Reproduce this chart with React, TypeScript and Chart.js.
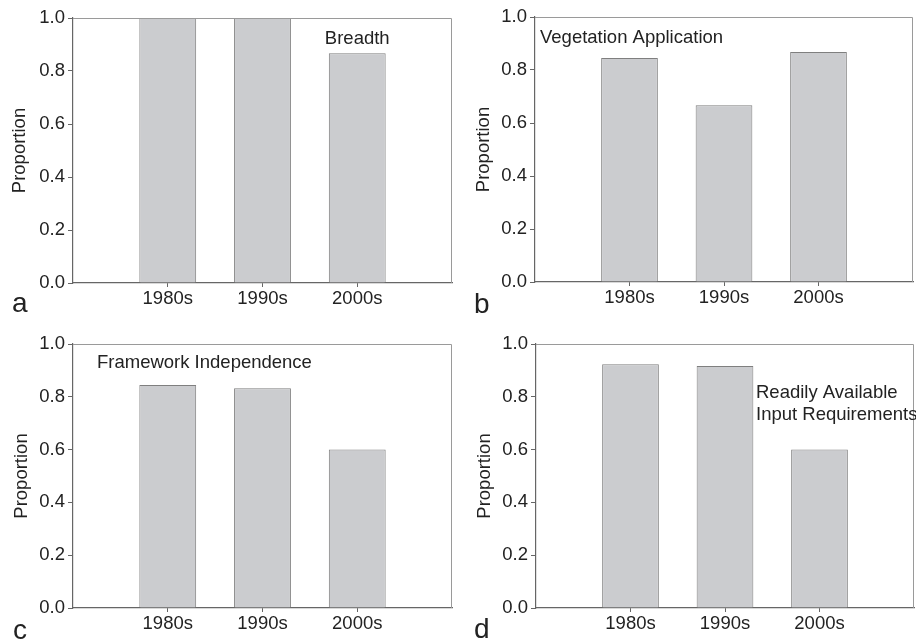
import React, { useEffect, useRef } from "react";
import { Chart, registerables } from "chart.js";

Chart.register(...registerables);

const categories = ["1980s", "1990s", "2000s"];
const breadth = [1.0, 1.0, 0.867];
const vegetation = [0.845, 0.667, 0.868];
const framework = [0.845, 0.832, 0.6];
const inputReq = [0.923, 0.917, 0.6];
const yTicks = [0, 0.2, 0.4, 0.6, 0.8, 1.0];

const FONT = "'Liberation Sans', Arial, Helvetica, sans-serif";
const TEXT = "#222";
const FS = 18.5;

type Note = { text: string[]; x: number; y: number; align: CanvasTextAlign };

type Panel = {
  letter: string;
  values: number[];
  notes: Note[];
  left: number; top: number;
  areaLeft: number; areaRight: number; areaTop: number; areaBottom: number;
  titleX: number;
  letterBaseline: number; letterX: number;
};

const W = 458;
const H = 320;

const panels: Panel[] = [
  {
    letter: "a", values: breadth,
    notes: [{ text: ["Breadth"], x: 3, y: 0.922, align: "center" }],
    left: 0, top: 0, areaLeft: 73, areaRight: 452, areaTop: 18, areaBottom: 283,
    titleX: 20, letterBaseline: 311, letterX: 12,
  },
  {
    letter: "b", values: vegetation,
    notes: [{ text: ["Vegetation Application"], x: 0.053, y: 0.921, align: "left" }],
    left: 458, top: 0, areaLeft: 77, areaRight: 455, areaTop: 17, areaBottom: 282,
    titleX: 26, letterBaseline: 312, letterX: 16,
  },
  {
    letter: "c", values: framework,
    notes: [{ text: ["Framework Independence"], x: 0.253, y: 0.928, align: "left" }],
    left: 0, top: 320, areaLeft: 73, areaRight: 452, areaTop: 24, areaBottom: 288,
    titleX: 22, letterBaseline: 318, letterX: 13,
  },
  {
    letter: "d", values: inputReq,
    notes: [
      { text: ["Readily Available", "Input Requirements"], x: 2.328, y: 0.814, align: "left" },
    ],
    left: 458, top: 320, areaLeft: 78, areaRight: 456, areaTop: 24, areaBottom: 288,
    titleX: 27, letterBaseline: 317, letterX: 16,
  },
];

function makePlugin(p: Panel) {
  return {
    id: "frameNotes" + p.letter,
    afterDraw(chart: any) {
      const { ctx, chartArea } = chart;
      const { left, right, top, bottom } = chartArea;
      ctx.save();
      ctx.strokeStyle = "#9a9a9a";
      ctx.lineWidth = 1;
      ctx.beginPath();
      ctx.moveTo(left, top + 0.5);
      ctx.lineTo(right - 0.5, top + 0.5);
      ctx.lineTo(right - 0.5, bottom);
      ctx.stroke();
      const xs = chart.scales.x;
      const ys = chart.scales.y;
      ctx.fillStyle = TEXT;
      ctx.font = `${FS}px ${FONT}`;
      ctx.textBaseline = "middle";
      p.notes.forEach((n) => {
        ctx.textAlign = n.align;
        const px = xs.getPixelForValue(n.x);
        const py = ys.getPixelForValue(n.y);
        n.text.forEach((line, i) => ctx.fillText(line, px, py + i * 22));
      });
      ctx.restore();
    },
  };
}

function PanelChart({ p }: { p: Panel }) {
  const ref = useRef<HTMLCanvasElement | null>(null);
  useEffect(() => {
    if (!ref.current) return;
    const labels = ["", ...categories, ""];
    const data = [null, ...p.values, null];
    const chart = new Chart(ref.current, {
      type: "bar",
      data: {
        labels,
        datasets: [
          {
            data,
            backgroundColor: "#cbcccf",
            borderColor: "#7f7f7f",
            borderWidth: 1,
            categoryPercentage: 1,
            barPercentage: 0.6,
          },
        ],
      },
      options: {
        animation: false,
        responsive: false,
        devicePixelRatio: 1,
        layout: {
          padding: { top: p.areaTop, right: W - p.areaRight, left: 0, bottom: 0 },
        },
        plugins: { legend: { display: false }, tooltip: { enabled: false }, title: { display: false } },
        scales: {
          x: {
            type: "category",
            offset: false,
            grid: {
              offset: false,
              drawOnChartArea: false,
              drawTicks: true,
              tickLength: 4,
              tickColor: (c: any) => (c.index === 0 || c.index === 4 ? "rgba(0,0,0,0)" : "#666"),
            },
            border: { display: true, color: "#666", width: 1.2 },
            ticks: {
              autoSkip: false, maxRotation: 0, padding: 1, color: TEXT,
              font: { family: FONT, size: FS },
            },
            afterFit: (s: any) => { s.height = H - p.areaBottom; },
          },
          y: {
            type: "linear",
            min: 0, max: 1,
            afterBuildTicks: (s: any) => { s.ticks = yTicks.map((v) => ({ value: v })); },
            grid: { drawOnChartArea: false, drawTicks: true, tickLength: 5, tickColor: "#666" },
            border: { display: true, color: "#666", width: 1.2 },
            ticks: {
              padding: 3, color: TEXT,
              font: { family: FONT, size: FS },
              callback: (v: any) => Number(v).toFixed(1),
            },
            title: {
              display: true, text: "Proportion", color: TEXT,
              font: { family: FONT, size: FS, lineHeight: 1.2 },
              padding: { top: p.titleX - FS * 0.6, bottom: 0 },
            },
            afterFit: (s: any) => { s.width = p.areaLeft; },
          },
        },
      },
      plugins: [makePlugin(p)],
    } as any);
    return () => chart.destroy();
  }, [p]);
  return (
    <div style={{ position: "absolute", left: p.left, top: p.top, width: W, height: H }}>
      <canvas ref={ref} width={W} height={H} style={{ width: W, height: H, display: "block" }} />
      <div
        style={{
          position: "absolute", left: p.letterX, top: p.letterBaseline - 22,
          font: `28px ${FONT}`, lineHeight: "1", color: TEXT,
        }}
      >
        {p.letter}
      </div>
    </div>
  );
}

export default function App() {
  return (
    <div style={{ position: "fixed", left: 0, top: 0, width: 916, height: 640, background: "#fff", overflow: "hidden" }}>
      {panels.map((p) => (
        <PanelChart key={p.letter} p={p} />
      ))}
    </div>
  );
}
